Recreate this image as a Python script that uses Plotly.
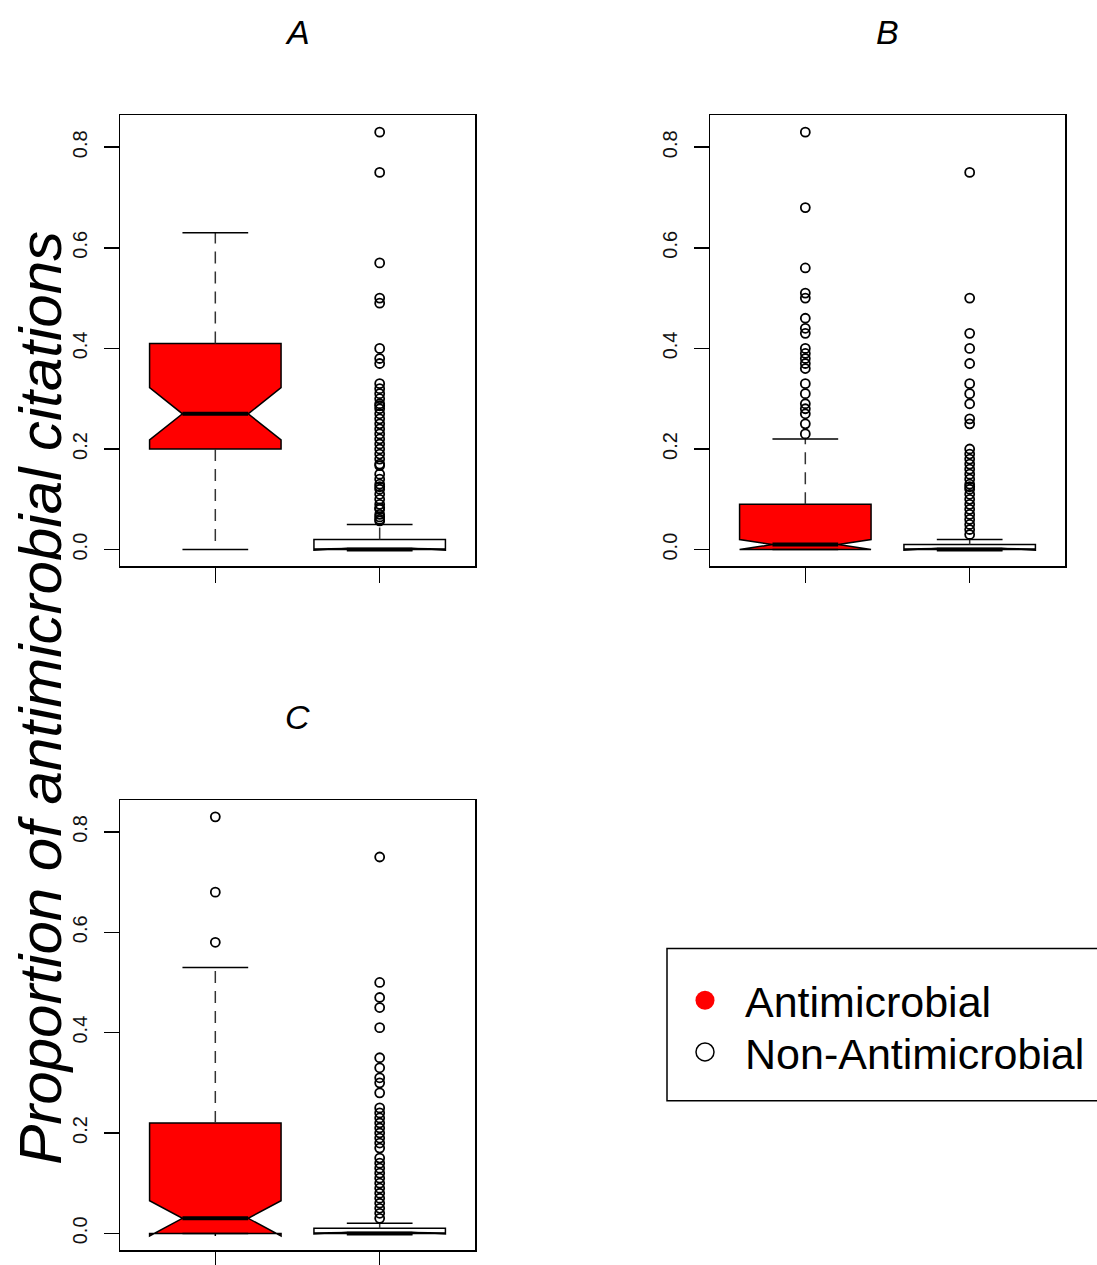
import plotly.graph_objects as go

W, H = 1097, 1265

# ---------------- data ----------------
panels = ["A", "B", "C"]
groups = ["Antimicrobial", "Non-Antimicrobial"]
group_pos = [1, 2]
group_fill = ["#ff0000", "#ffffff"]

# box statistics, one list per panel: [Antimicrobial, Non-Antimicrobial]
q1_vals = [[0.20, 0.00], [0.00, 0.00], [0.00, 0.00]]
median_vals = [[0.27, 0.00], [0.01, 0.00], [0.03, 0.00]]
q3_vals = [[0.41, 0.02], [0.09, 0.01], [0.22, 0.01]]
lower_whisker = [[0.00, 0.00], [0.00, 0.00], [0.00, 0.00]]
upper_whisker = [[0.63, 0.05], [0.22, 0.02], [0.53, 0.02]]
notch_span = [[0.052, 0.001], [0.010, 0.001], [0.035, 0.001]]

out_A_anti = []
out_A_non = [0.83, 0.75, 0.57, 0.50, 0.49, 0.40, 0.38, 0.37, 0.33, 0.32,
             0.31, 0.30, 0.29, 0.286, 0.28, 0.27, 0.26, 0.25, 0.24, 0.23,
             0.22, 0.21, 0.20, 0.19, 0.18, 0.17, 0.167, 0.15, 0.14, 0.13,
             0.125, 0.12, 0.11, 0.10, 0.09, 0.083, 0.08, 0.07, 0.065, 0.06, 0.057]
out_B_anti = [0.83, 0.68, 0.56, 0.51, 0.50, 0.46, 0.44, 0.43, 0.40, 0.39,
              0.38, 0.37, 0.36, 0.33, 0.31, 0.29, 0.28, 0.27, 0.25, 0.23]
out_B_non = [0.75, 0.50, 0.43, 0.40, 0.37, 0.33, 0.31, 0.29, 0.26, 0.25,
             0.20, 0.19, 0.18, 0.17, 0.16, 0.15, 0.14, 0.13, 0.125, 0.12,
             0.11, 0.10, 0.09, 0.08, 0.07, 0.06, 0.05, 0.04, 0.03]
out_C_anti = [0.83, 0.68, 0.58]
out_C_non = [0.75, 0.50, 0.47, 0.45, 0.41, 0.35, 0.33, 0.31, 0.30, 0.28,
             0.25, 0.24, 0.23, 0.22, 0.21, 0.20, 0.19, 0.18, 0.17, 0.15,
             0.14, 0.13, 0.12, 0.11, 0.10, 0.09, 0.08, 0.07, 0.06, 0.05,
             0.04, 0.03]
outliers = [[out_A_anti, out_A_non], [out_B_anti, out_B_non], [out_C_anti, out_C_non]]

y_tick_vals = [0.0, 0.2, 0.4, 0.6, 0.8]
y_tick_text = ["0.0", "0.2", "0.4", "0.6", "0.8"]
y_label = "Proportion of antimicrobial citations"

# ---------------- layout geometry (page pixels) ----------------
def px(x):
    return x / W


def py(y):
    return 1 - y / H


frames = {  # left, right, top, bottom
    "A": (120, 475, 116, 569),
    "B": (710, 1065, 116, 569),
    "C": (120, 475, 804, 1256),
}
title_y = {"A": 32.5, "B": 32.5, "C": 720.5}
BOX_W = 0.8
NOTCH_FRAC = 0.5
STAPLE_HALF = 0.2
FONT = "Liberation Sans, Arial, sans-serif"

fig = go.Figure()

for pi, p in enumerate(panels):
    ax = "" if pi == 0 else str(pi + 1)
    xref, yref = "x" + ax, "y" + ax
    for gi, g in enumerate(groups):
        pos = group_pos[gi]
        fig.add_trace(go.Box(
            x=[pos], q1=[q1_vals[pi][gi]], median=[median_vals[pi][gi]],
            q3=[q3_vals[pi][gi]], lowerfence=[q1_vals[pi][gi]],
            upperfence=[q3_vals[pi][gi]], notchspan=[notch_span[pi][gi]],
            notched=True, notchwidth=0.25, width=BOX_W, whiskerwidth=0,
            fillcolor=group_fill[gi], line=dict(color="black", width=1.5),
            boxpoints=False, showlegend=False, hoverinfo="skip",
            xaxis=xref, yaxis=yref, name=g))
        # dashed whiskers
        fig.add_trace(go.Scatter(
            x=[pos, pos, None, pos, pos],
            y=[q3_vals[pi][gi], upper_whisker[pi][gi], None,
               q1_vals[pi][gi], lower_whisker[pi][gi]],
            mode="lines", line=dict(color="#333333", width=1.5, dash="12px,8px"),
            showlegend=False, hoverinfo="skip", xaxis=xref, yaxis=yref))
        # staples
        fig.add_trace(go.Scatter(
            x=[pos - STAPLE_HALF, pos + STAPLE_HALF, None,
               pos - STAPLE_HALF, pos + STAPLE_HALF],
            y=[upper_whisker[pi][gi]] * 2 + [None] + [lower_whisker[pi][gi]] * 2,
            mode="lines", line=dict(color="black", width=1.5),
            showlegend=False, hoverinfo="skip", xaxis=xref, yaxis=yref))
        # thick median
        half = BOX_W / 2 * NOTCH_FRAC
        fig.add_trace(go.Scatter(
            x=[pos - half, pos + half],
            y=[median_vals[pi][gi]] * 2,
            mode="lines", line=dict(color="black", width=4),
            showlegend=False, hoverinfo="skip", xaxis=xref, yaxis=yref))
        # outliers
        if outliers[pi][gi]:
            fig.add_trace(go.Scatter(
                x=[pos] * len(outliers[pi][gi]), y=outliers[pi][gi],
                mode="markers",
                marker=dict(symbol="circle-open", size=9, color="black",
                            line=dict(width=1.8, color="black")),
                showlegend=False, hoverinfo="skip", xaxis=xref, yaxis=yref))

    l, r, t, b = frames[p]
    xd = [px(l), px(r)]
    yd = [py(b), py(t)]
    common = dict(showline=True, mirror=True, linecolor="black", linewidth=1.5,
                  showgrid=False, zeroline=False, ticks="outside", ticklen=15,
                  tickwidth=1.5, tickcolor="black", fixedrange=True)
    fig.update_layout(**{
        "xaxis" + ax: dict(domain=xd, range=[0.42, 2.58], tickvals=group_pos,
                           showticklabels=False, anchor=yref, **common),
        "yaxis" + ax: dict(domain=yd, range=[-0.0332, 0.8632],
                           tickvals=y_tick_vals, ticktext=y_tick_text,
                           tickangle=-90, anchor=xref, ticklabelstandoff=9,
                           tickfont=dict(family=FONT, size=20, color="#111111"),
                           **common),
    })
    # panel title
    fig.add_annotation(text="<i>%s</i>" % p, x=px((l + r) / 2), y=py(title_y[p]),
                       xref="paper", yref="paper", showarrow=False,
                       xanchor="center", yanchor="middle",
                       font=dict(family=FONT, size=34, color="black"))

# shared y-axis label
fig.add_annotation(text="<i>%s</i>" % y_label, x=px(41), y=py(701),
                   xref="paper", yref="paper", showarrow=False, textangle=-90,
                   xanchor="center", yanchor="middle", borderpad=0,
                   font=dict(family=FONT, size=60, color="black"))

# legend (box, symbols, labels)
fig.add_shape(type="rect", xref="paper", yref="paper",
              x0=px(667), x1=px(1115), y0=py(1106), y1=py(953),
              line=dict(color="black", width=1.5), fillcolor="rgba(0,0,0,0)")
leg_y = [1005, 1057]
for gi, g in enumerate(groups):
    rad = 9.5 if gi == 0 else 9
    fig.add_shape(type="circle", xref="paper", yref="paper",
                  x0=px(705 - rad), x1=px(705 + rad),
                  y0=py(leg_y[gi] + rad), y1=py(leg_y[gi] - rad),
                  fillcolor=group_fill[gi],
                  line=dict(color="#ff0000" if gi == 0 else "black",
                            width=0 if gi == 0 else 1.5))
    fig.add_annotation(text=g, x=px(743), y=py(leg_y[gi] + 2),
                       xref="paper", yref="paper", showarrow=False,
                       xanchor="left", yanchor="middle",
                       font=dict(family=FONT, size=43, color="black"))

fig.update_layout(width=W, height=H, margin=dict(l=0, r=0, t=0, b=0),
                  paper_bgcolor="white", plot_bgcolor="white",
                  boxmode="overlay", showlegend=False)

# remove the browser's default 8px page margin so the figure fills the window
fig.write_html("out.html",
               config={"displayModeBar": False, "staticPlot": True},
               post_script="document.body.style.margin='0';"
                           "document.body.style.overflow='hidden';")
